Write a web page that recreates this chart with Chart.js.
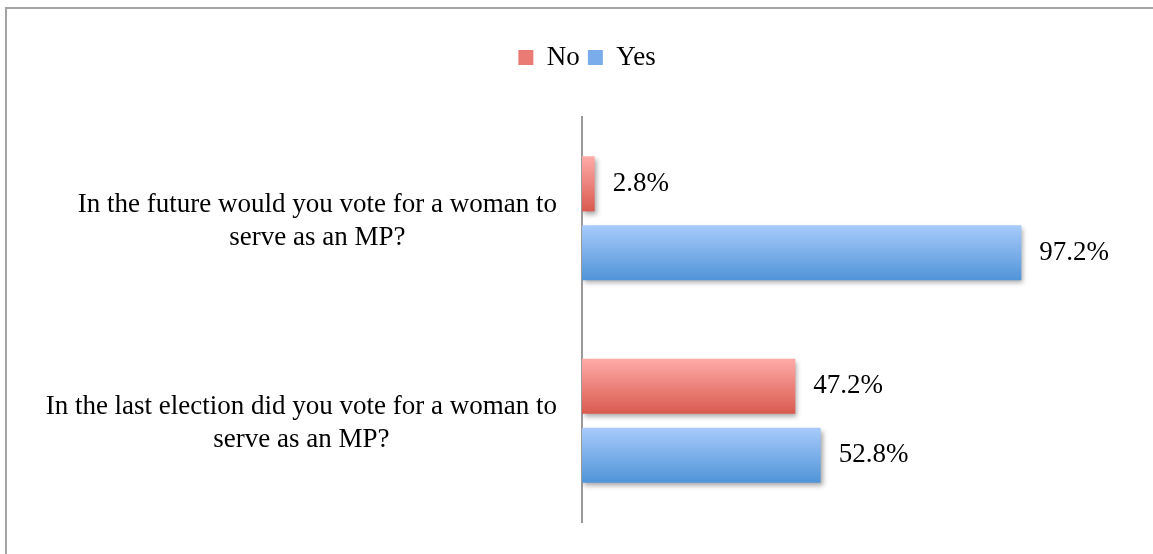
<html><head><title>Women MP vote</title>
<script src="https://cdn.jsdelivr.net/npm/chart.js"></script>
<style>
    body {
        margin: 0;
        background: #fff;
        overflow: hidden;
    }
    #frame {
        position: absolute;
        left: 5px;
        top: 7px;
        width: 1160px;
        height: 560px;
        border: 2px solid #a3a3a3;
    }
</style>
</head>
<body>
    <div id="frame">
        <canvas id="voteChart" width="1160" height="560"></canvas>
    </div>

    <script>
    const questions = [
        ['In the future would you vote for a woman to', 'serve as an MP?'],
        ['In the last election did you vote for a woman to', 'serve as an MP?']
    ];
    const noValues = [2.8, 47.2];
    const yesValues = [97.2, 52.8];

    const serif = '"Liberation Serif", serif';
    const CAT_PCT = 0.68;
    const legendColors = ['#ea7b74', '#7aabea'];

    // vertical gradient per bar, worked out from the category scale
    function barGradient(top, bottom, flat) {
        return function (ctx) {
            if (ctx.type !== 'data') return flat;
            const chart = ctx.chart;
            const ys = chart.scales.y;
            if (!ys) return flat;
            const center = ys.getPixelForValue(ctx.dataIndex);
            const band = (ys.bottom - ys.top) / questions.length;
            if (!isFinite(center) || !isFinite(band) || band <= 0) return flat;
            const slot = band * CAT_PCT / 2;
            const y0 = ctx.datasetIndex === 0 ? center - slot : center;
            const g = chart.ctx.createLinearGradient(0, y0 + slot * 0.1, 0, y0 + slot * 0.9);
            g.addColorStop(0, top);
            g.addColorStop(1, bottom);
            return g;
        };
    }

    const barExtras = {
        id: 'barExtras',
        beforeDatasetsDraw(chart) {
            const c = chart.ctx;
            c.save();
            c.shadowColor = 'rgba(0,0,0,0.35)';
            c.shadowBlur = 5;
            c.shadowOffsetX = 2;
            c.shadowOffsetY = 3;
        },
        afterDatasetsDraw(chart) {
            const c = chart.ctx;
            c.restore();
            c.save();
            c.font = '27px ' + serif;
            c.fillStyle = '#000';
            c.textAlign = 'left';
            c.textBaseline = 'middle';
            chart.data.datasets.forEach((ds, di) => {
                chart.getDatasetMeta(di).data.forEach((bar, i) => {
                    c.fillText(ds.data[i].toFixed(1) + '%', bar.x + 18, bar.y);
                });
            });
            c.restore();
        },
        afterDraw(chart) {
            // category labels: block right-aligned to the axis, lines centred
            const c = chart.ctx;
            const ys = chart.scales.y;
            c.save();
            c.font = '27px ' + serif;
            c.fillStyle = '#000';
            c.textAlign = 'center';
            c.textBaseline = 'middle';
            const right = ys.right - 25;
            const lh = 33;
            questions.forEach((lines, i) => {
                const widest = Math.max(...lines.map(l => c.measureText(l).width));
                const cx = right - widest / 2;
                const cy = ys.getPixelForValue(i) + 3;
                lines.forEach((l, k) => {
                    c.fillText(l, cx, cy + (k - (lines.length - 1) / 2) * lh);
                });
            });
            c.restore();
        }
    };

    const chart = new Chart(document.getElementById('voteChart'), {
        type: 'bar',
        data: {
            labels: questions,
            datasets: [{
                label: 'No',
                data: noValues,
                backgroundColor: barGradient('#ffaba8', '#d95a4f', legendColors[0])
            }, {
                label: 'Yes',
                data: yesValues,
                backgroundColor: barGradient('#a8cbfb', '#5094d8', legendColors[1])
            }]
        },
        options: {
            indexAxis: 'y',
            responsive: false,
            animation: false,
            categoryPercentage: CAT_PCT,
            barPercentage: 0.8,
            layout: { padding: { top: 27, right: 133, bottom: 47, left: 133 } },
            plugins: {
                tooltip: { enabled: false },
                legend: {
                    position: 'top',
                    labels: {
                        boxWidth: 15,
                        boxHeight: 15,
                        padding: 8,
                        color: '#000',
                        font: { family: serif, size: 27 },
                        generateLabels(chart) {
                            const items = Chart.defaults.plugins.legend.labels.generateLabels(chart);
                            items.forEach((it, i) => {
                                it.fillStyle = legendColors[i];
                                it.strokeStyle = legendColors[i];
                                it.lineWidth = 0;
                            });
                            return items;
                        }
                    }
                }
            },
            scales: {
                x: {
                    position: 'top',
                    min: 0,
                    max: 100,
                    grid: { display: false },
                    ticks: { display: false },
                    border: { display: false },
                    afterFit(scale) { scale.height = 36; }
                },
                y: {
                    grid: { display: false },
                    ticks: { display: false },
                    border: { display: true, color: '#9a9a9a', width: 2 },
                    afterFit(scale) { scale.width = 442; }
                }
            }
        },
        plugins: [barExtras]
    });
    </script>
</body>
</html>
